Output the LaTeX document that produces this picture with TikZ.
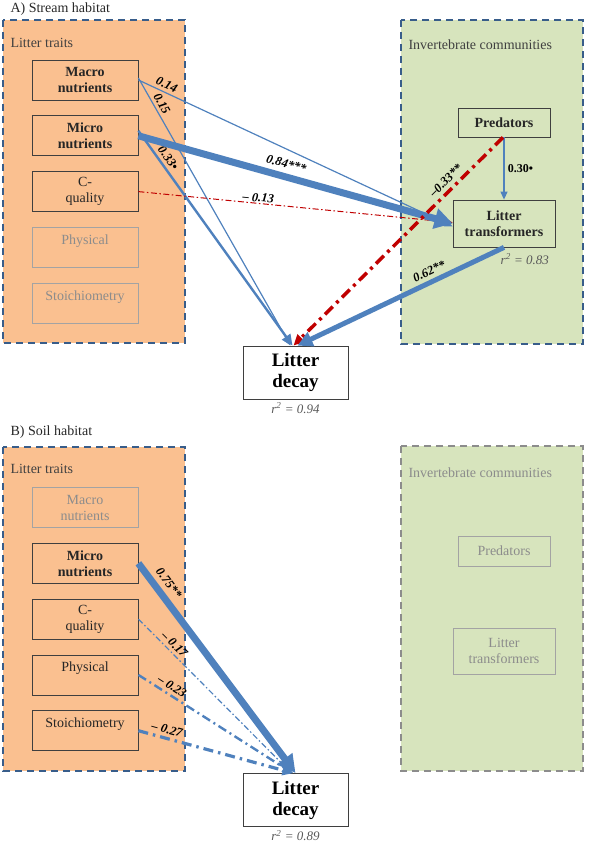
\documentclass[tikz,border=0pt]{standalone}
\usepackage{fontspec}
\setmainfont{Liberation Serif}
\usetikzlibrary{arrows.meta,positioning}

\definecolor{traitfill}{HTML}{FAC090}
\definecolor{invfill}{HTML}{D7E4BD}
\definecolor{frameblue}{HTML}{385D8A}
\definecolor{pathblue}{HTML}{4F81BD}
\definecolor{negred}{HTML}{C00000}
\definecolor{boxline}{HTML}{3F3F3F}
\definecolor{fadegray}{HTML}{8C8C8C}

\begin{document}
\begin{tikzpicture}[
        x=1pt, y=-1pt,
        node distance=15pt,
        every node/.style={font=\fontsize{14}{16}\selectfont, text=black!85},
        panelbox/.style={draw=frameblue, line width=1.8pt, dash pattern=on 7pt off 5pt},
        fadedpanel/.style={draw=fadegray, line width=1.8pt, dash pattern=on 7pt off 5pt},
        traitbox/.style={draw=boxline, line width=0.8pt, minimum width=106pt, minimum height=40pt, align=center, inner sep=1pt},
        strongbox/.style={traitbox, font=\bfseries\fontsize{14}{16}\selectfont},
        fadedbox/.style={traitbox, draw=fadegray!80, text=fadegray},
        decaybox/.style={draw=boxline, fill=white, line width=0.8pt, minimum width=105pt, minimum height=53pt, align=center, inner sep=1pt, font=\bfseries\fontsize{19}{21}\selectfont, text=black},
        rsq/.style={font=\itshape\fontsize{13}{15}\selectfont, text=black!65},
        wlabel/.style={font=\bfseries\itshape\fontsize{12.5}{14}\selectfont, text=black, sloped, above, inner sep=1pt},
        pathline/.style={draw=pathblue, line width=1.2pt, -{Triangle[length=8pt,width=7pt]}},
        negline/.style={draw=negred, line width=1pt, dash pattern=on 6pt off 2.5pt on 1.5pt off 2.5pt, -{Triangle[length=7pt,width=6pt]}}
    ]
    \useasboundingbox (0,0) rectangle (590,842);

    % A) Stream habitat
    \node[anchor=west] (titleA) at (7,9) {A) Stream habitat};
    \draw[panelbox, fill=traitfill] (3,20) rectangle (185,343);
    \draw[panelbox, fill=invfill] (401,20) rectangle (583,344);
    \node[anchor=west, text=black!75] (traitsA) at (7,43) {Litter traits};
    \node[anchor=west, text=black!75] (invA) at (405,45) {Invertebrate communities};

    \node[strongbox] (macroA) at (85,80) {Macro\\nutrients};
    \node[strongbox, below=of macroA] (microA) {Micro\\nutrients};
    \node[traitbox, below=of microA] (cqA) {C-\\quality};
    \node[fadedbox, below=of cqA] (physA) {Physical\\~};
    \node[fadedbox, below=of physA] (stoiA) {Stoichiometry\\~};

    \node[strongbox, minimum width=92pt, minimum height=29pt] (predA) at (504,122.5) {Predators};
    \node[strongbox, minimum width=102pt, minimum height=47pt] (transA) at (504,223.5) {Litter\\transformers};
    \node[rsq, anchor=north east] (rsqT) at ([xshift=-3pt,yshift=-3pt]transA.south east) {r\textsuperscript{2} = 0.83};

    \node[decaybox] (decayA) at (295.5,372.5) {Litter\\decay};
    \node[rsq, below=0pt of decayA] (rsqA) {r\textsuperscript{2} = 0.94};

    % Edges
    \draw[pathline] (macroA.east) -- node[wlabel, pos=.08, above=2pt] {0.14} ([yshift=-3pt]transA.west);
    \draw[pathline] ([yshift=2pt]macroA.east) -- node[wlabel, pos=.11, above=2pt] {0.15} ([xshift=-5pt]decayA.north);
    \draw[pathline, line width=2.4pt, -{Triangle[length=11pt,width=10pt]}] ([yshift=5pt]microA.east) -- node[wlabel, pos=.15, above=2pt] {0.33•} ([xshift=-3pt]decayA.north);
    \draw[negline] (cqA.east) -- node[wlabel, pos=.38] {– 0.13} ([yshift=1pt]transA.west);
    \draw[pathline, line width=7pt, -{Triangle[length=18pt,width=20pt]}] (microA.east) -- node[wlabel, pos=.46, above=4pt] {0.84***} (transA.west);
    \draw[pathline] (predA.south) -- node[right, font=\bfseries\fontsize{12}{14}\selectfont, text=black] {0.30•} (transA.north);
    \draw[negline, line width=3.5pt, dash pattern=on 11pt off 5pt on 3pt off 5pt, -{Triangle[length=11pt,width=10pt]}] ([xshift=-1pt]predA.south) -- node[wlabel, pos=.24, above=3pt] {–0.33**} ([xshift=-2pt]decayA.north);
    \draw[pathline, line width=5pt, -{Triangle[length=15pt,width=15pt]}] (transA.south) -- node[wlabel, pos=.34, above=3pt] {0.62**} ([xshift=2pt]decayA.north);

    % B) Soil habitat
    \node[anchor=west] (titleB) at (7,432) {B) Soil habitat};
    \draw[panelbox, fill=traitfill] (3,447) rectangle (185,771);
    \draw[fadedpanel, fill=invfill] (401,446) rectangle (583,771);
    \node[anchor=west, text=black!75] (traitsB) at (7,469) {Litter traits};
    \node[anchor=west, text=fadegray] (invB) at (405,473) {Invertebrate communities};

    \node[fadedbox] (macroB) at (85,507.5) {Macro\\nutrients};
    \node[strongbox, below=of macroB] (microB) {Micro\\nutrients};
    \node[traitbox, below=of microB] (cqB) {C-\\quality};
    \node[traitbox, below=of cqB] (physB) {Physical\\~};
    \node[traitbox, below=of physB] (stoiB) {Stoichiometry\\~};

    \node[fadedbox, minimum width=92pt, minimum height=30pt] (predB) at (504,551) {Predators};
    \node[fadedbox, minimum width=102pt, minimum height=46pt] (transB) at (504,651) {Litter\\transformers};

    \node[decaybox] (decayB) at (295.5,800) {Litter\\decay};
    \node[rsq, below=0pt of decayB] (rsqB) {r\textsuperscript{2} = 0.89};

    % Edges
    \draw[pathline, dash pattern=on 6pt off 2.5pt on 1.5pt off 2.5pt] (cqB.east) -- node[wlabel, pos=.2, above=2pt] {– 0.17} ([xshift=-4pt]decayB.north);
    \draw[pathline, line width=2.4pt, dash pattern=on 9pt off 4pt on 2pt off 4pt, -{Triangle[length=10pt,width=9pt]}] (physB.east) -- node[wlabel, pos=.19, above=2pt] {– 0.23} ([xshift=-3pt]decayB.north);
    \draw[pathline, line width=3.2pt, dash pattern=on 10pt off 5pt on 2.5pt off 5pt, -{Triangle[length=11pt,width=10pt]}] (stoiB.east) -- node[wlabel, pos=.17, above=2pt] {– 0.27} ([xshift=-2pt]decayB.north);
    \draw[pathline, line width=7pt, -{Triangle[length=18pt,width=18pt]}] (microB.east) -- node[wlabel, pos=.13, above=4pt] {0.75**} (decayB.north);

\end{tikzpicture}
\end{document}
